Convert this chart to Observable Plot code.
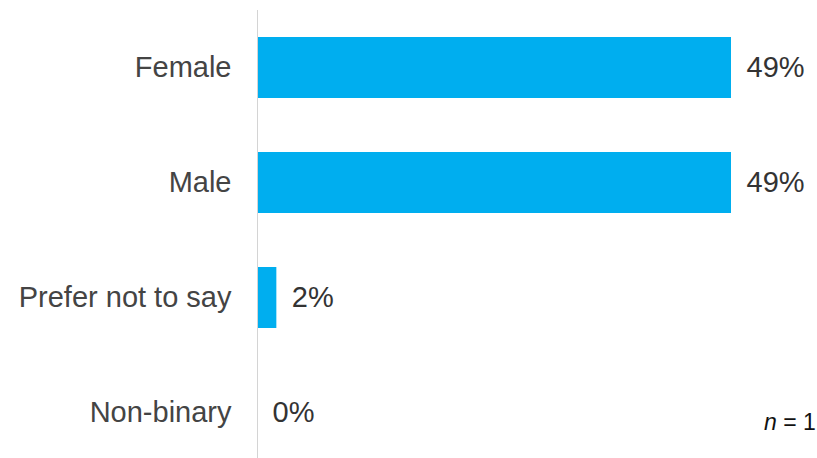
<!DOCTYPE html>
<html>
<head>
<meta charset="utf-8">
<script src="https://cdn.jsdelivr.net/npm/d3@7"></script>
<script src="https://cdn.jsdelivr.net/npm/@observablehq/plot@0.6"></script>
<style>
  html, body { margin: 0; padding: 0; background: #fff; overflow: hidden; width: 817px; height: 458px; }
  #wrap { position: relative; width: 817px; height: 458px; }
  #note { position: absolute; left: 764px; top: 409px; font-family: "Liberation Sans", Arial, sans-serif; font-size: 23px; color: #111; white-space: nowrap; }
</style>
</head>
<body>
<div id="wrap">
  <div id="chart"></div>
  <div id="note"><i>n</i> = 1</div>
</div>
<script>
const categories = ["Female", "Male", "Prefer not to say", "Non-binary"];
const values = [49, 49, 2, 0];
const data = categories.map((c, i) => ({category: c, value: values[i]}));

const chart = Plot.plot({
  width: 817,
  height: 458,
  marginLeft: 257,
  marginRight: 86,
  marginTop: 22,
  marginBottom: 0,
  style: {fontFamily: "'Liberation Sans', Arial, sans-serif", fontSize: "29px", color: "#444", background: "#fff"},
  x: {domain: [0, 49], axis: null},
  y: {domain: categories, paddingInner: 0.47, paddingOuter: 0.13, label: null},
  marks: [
    Plot.barX(data, {x: "value", y: "category", fill: "#00AEEF"}),
    Plot.ruleX([0], {stroke: "#d4d4d4", strokeWidth: 1, insetTop: -12}),
    Plot.axisY({tickSize: 0, tickPadding: 26, fontSize: 29, fill: "#444", label: null}),
    Plot.text(data, {x: "value", y: "category", text: d => `${d.value}%`, dx: 15, textAnchor: "start", fontSize: 29, fill: "#333"})
  ]
});
document.getElementById("chart").appendChild(chart);
</script>
</body>
</html>
